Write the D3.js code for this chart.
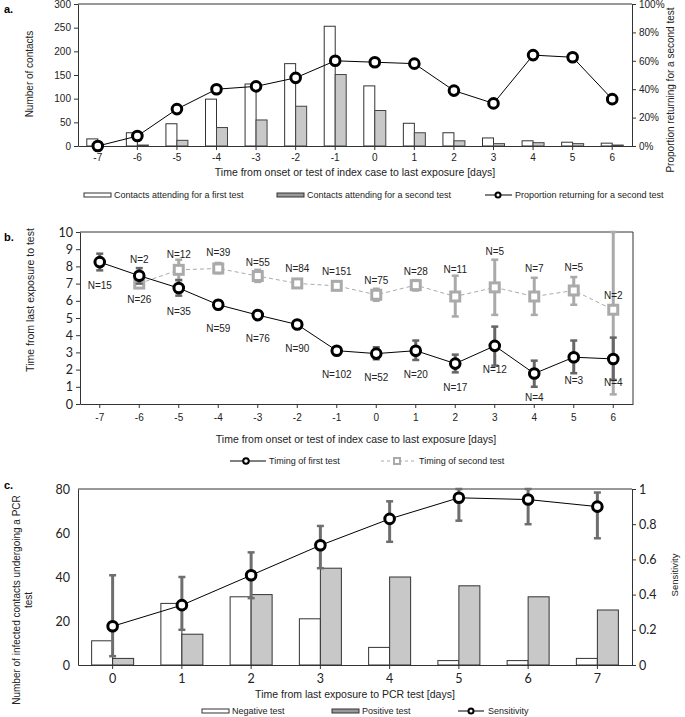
<!DOCTYPE html>
<html>
<head>
<meta charset="utf-8">
<script src="https://cdn.jsdelivr.net/npm/d3@7"></script>
<style>
  body { margin: 0; background: #fff; }
  svg { display: block; font-family: "Liberation Sans", Arial, sans-serif; }
  .axis path, .axis line { stroke: #333; }
  .axis text { fill: #222; }
  .legend { font-family: "Liberation Sans Narrow", "Arial Narrow", "Liberation Sans", sans-serif; }
</style>
</head>
<body>
<div id="chart"></div>
<script>
// ---- panel a data ----
var exposureDays = [-7, -6, -5, -4, -3, -2, -1, 0, 1, 2, 3, 4, 5, 6];
var firstTestContacts = [15, 28, 47, 99, 131, 174, 253, 127, 48, 28, 17, 11, 8, 6];
var secondTestContacts = [0, 2, 12, 39, 55, 84, 151, 75, 28, 11, 5, 7, 5, 2];
var proportionReturning = [0, 7, 26, 40, 42, 48, 60, 59, 58, 39, 30, 64, 62.5, 33];
var contactTicks = [0, 50, 100, 150, 200, 250, 300];
var percentTicks = [0, 20, 40, 60, 80, 100];

// ---- panel b data ----
var firstTiming = [8.25, 7.46, 6.74, 5.77, 5.17, 4.62, 3.1, 2.93, 3.1, 2.35, 3.38, 1.77, 2.72, 2.62];
var firstTimingLow = [7.77, 7.0, 6.3, 5.6, 5.0, 4.45, 2.98, 2.6, 2.56, 1.84, 2.23, 1.0, 1.79, 1.4];
var firstTimingHigh = [8.74, 7.9, 7.2, 6.0, 5.35, 4.8, 3.25, 3.3, 3.69, 2.87, 4.5, 2.52, 3.69, 3.86];
var firstTimingN = [15, 26, 35, 59, 76, 90, 102, 52, 20, 17, 12, 4, 3, 4];
var secondTiming = [null, 7.0, 7.8, 7.88, 7.44, 7.01, 6.87, 6.35, 6.91, 6.25, 6.78, 6.25, 6.6, 5.48];
var secondTimingLow = [null, 7.0, 7.22, 7.6, 7.1, 6.85, 6.7, 6.0, 6.6, 5.09, 5.18, 5.18, 5.77, 0.56];
var secondTimingHigh = [null, 7.0, 8.39, 8.2, 7.8, 7.2, 7.0, 6.7, 7.2, 7.46, 8.39, 7.34, 7.38, 10];
var secondTimingN = [null, 2, 12, 39, 55, 84, 151, 75, 28, 11, 5, 7, 5, 2];
var timingTicks = [0, 1, 2, 3, 4, 5, 6, 7, 8, 9, 10];

// ---- panel c data ----
var pcrDays = [0, 1, 2, 3, 4, 5, 6, 7];
var negativeTests = [11, 28, 31, 21, 8, 2, 2, 3];
var positiveTests = [3, 14, 32, 44, 40, 36, 31, 25];
var sensitivity = [0.22, 0.34, 0.51, 0.68, 0.83, 0.95, 0.94, 0.9];
var sensitivityLow = [0.05, 0.2, 0.38, 0.55, 0.70, 0.82, 0.80, 0.72];
var sensitivityHigh = [0.51, 0.50, 0.64, 0.79, 0.93, 1.0, 1.0, 0.98];
var infectedTicks = [0, 20, 40, 60, 80];
var sensitivityTicks = [0, 0.2, 0.4, 0.6, 0.8, 1];

var width = 685, height = 717;
var gray = "#c8c8c8";
var calibri = "Lato, 'Open Sans', sans-serif";

var svg = d3.select('#chart').append('svg')
    .attr('width', width)
    .attr('height', height);

// little helpers
function ring(g, x, y) {
    g.append('circle').attr('cx', x).attr('cy', y).attr('r', 4.8)
        .attr('fill', '#fff').attr('stroke', '#000').attr('stroke-width', 3);
}
function errorBar(g, x, y1, y2, color) {
    g.append('line').attr('x1', x).attr('x2', x).attr('y1', y1).attr('y2', y2)
        .attr('stroke', color).attr('stroke-width', 3);
    [y1, y2].forEach(function(y) {
        g.append('line').attr('x1', x - 3.5).attr('x2', x + 3.5).attr('y1', y).attr('y2', y)
            .attr('stroke', color).attr('stroke-width', 2.5);
    });
}
function panelLetter(txt, y) {
    svg.append('text').attr('x', 4).attr('y', y).text(txt)
        .style('font-size', '11px').style('font-weight', 700);
}
function frame(g, x0, x1, y0) {
    g.append('line').attr('x1', x0).attr('x2', x1).attr('y1', y0).attr('y2', y0)
        .attr('stroke', '#333');
}

// ================= Panel a =================
var xA = d3.scaleBand().domain(exposureDays).range([78, 632]);
var yA = d3.scaleLinear().domain([0, 300]).range([146, 4]);
var yA2 = d3.scaleLinear().domain([0, 100]).range([146, 4]);
var gA = svg.append('g');
panelLetter('a.', 13);

var barW = 11;
gA.selectAll('.first').data(exposureDays).enter().append('rect')
    .attr('x', function(d) { return xA(d) + xA.bandwidth() / 2 - barW; })
    .attr('y', function(d, i) { return yA(firstTestContacts[i]); })
    .attr('width', barW)
    .attr('height', function(d, i) { return yA(0) - yA(firstTestContacts[i]); })
    .attr('fill', '#fff').attr('stroke', '#333').attr('stroke-width', 1);
gA.selectAll('.second').data(exposureDays).enter().append('rect')
    .attr('x', function(d) { return xA(d) + xA.bandwidth() / 2; })
    .attr('y', function(d, i) { return yA(secondTestContacts[i]); })
    .attr('width', barW)
    .attr('height', function(d, i) { return yA(0) - yA(secondTestContacts[i]); })
    .attr('fill', gray).attr('stroke', '#444').attr('stroke-width', 1);

frame(gA, 78, 632, 4);
gA.append('g').attr('class', 'axis').attr('transform', 'translate(0,146)')
    .call(d3.axisBottom(xA).tickSize(4).tickSizeOuter(0))
    .selectAll('text').style('font-size', '10px').attr('dy', '0.75em');
gA.append('g').attr('class', 'axis').attr('transform', 'translate(78,0)')
    .call(d3.axisLeft(yA).tickValues(contactTicks).tickSize(4).tickSizeOuter(0))
    .selectAll('text').style('font-size', '10px');
gA.append('g').attr('class', 'axis').attr('transform', 'translate(632,0)')
    .call(d3.axisRight(yA2).tickValues(percentTicks).tickSize(4).tickSizeOuter(0)
        .tickFormat(function(d) { return d + '%'; }))
    .selectAll('text').style('font-size', '10px');

var lineA = d3.line()
    .x(function(d, i) { return xA(exposureDays[i]) + xA.bandwidth() / 2; })
    .y(function(d) { return yA2(d); });
gA.append('path').datum(proportionReturning).attr('d', lineA)
    .attr('fill', 'none').attr('stroke', '#000').attr('stroke-width', 1);
proportionReturning.forEach(function(p, i) {
    ring(gA, xA(exposureDays[i]) + xA.bandwidth() / 2, yA2(p));
});

gA.append('text').attr('transform', 'translate(33,74) rotate(-90)')
    .attr('text-anchor', 'middle').style('font-size', '10px').attr('fill', '#222')
    .text('Number of contacts');
gA.append('text').attr('transform', 'translate(674,90) rotate(-90)')
    .attr('text-anchor', 'middle').style('font-size', '10px').attr('fill', '#222')
    .text('Proportion returning for a second test');
gA.append('text').attr('x', 355).attr('y', 176).attr('text-anchor', 'middle')
    .style('font-size', '10.5px').attr('fill', '#222')
    .text('Time from onset or test of index case to last exposure [days]');

// legend a
var legA = gA.append('g').attr('class', 'legend').style('font-size', '9px').attr('fill', '#222');
legA.append('rect').attr('x', 84).attr('y', 193).attr('width', 27).attr('height', 4)
    .attr('fill', '#fff').attr('stroke', '#333');
legA.append('text').attr('x', 114).attr('y', 198).text('Contacts attending for a first test');
legA.append('rect').attr('x', 277).attr('y', 193).attr('width', 27).attr('height', 4)
    .attr('fill', '#999').attr('stroke', '#333');
legA.append('text').attr('x', 307).attr('y', 198).text('Contacts attending for a second test');
legA.append('line').attr('x1', 485).attr('x2', 512).attr('y1', 195).attr('y2', 195)
    .attr('stroke', '#000');
legA.append('circle').attr('cx', 498).attr('cy', 195).attr('r', 2.5)
    .attr('fill', '#fff').attr('stroke', '#000').attr('stroke-width', 2);
legA.append('text').attr('x', 515).attr('y', 198).text('Proportion returning for a second test');

// ================= Panel b =================
var xB = d3.scaleBand().domain(exposureDays).range([80, 633]);
var yB = d3.scaleLinear().domain([0, 10]).range([404, 232]);
var gB = svg.append('g');
panelLetter('b.', 241);
function cxB(i) { return xB(exposureDays[i]) + xB.bandwidth() / 2; }

frame(gB, 80, 633, 232);
gB.append('line').attr('x1', 633).attr('x2', 633).attr('y1', 232).attr('y2', 404).attr('stroke', '#333');
gB.append('g').attr('class', 'axis').attr('transform', 'translate(0,404)')
    .call(d3.axisBottom(xB).tickSize(4).tickSizeOuter(0))
    .selectAll('text').style('font-size', '10px').attr('dy', '1em');
gB.append('g').attr('class', 'axis').attr('transform', 'translate(80,0)')
    .call(d3.axisLeft(yB).tickValues(timingTicks).tickSize(4).tickSizeOuter(0))
    .selectAll('text').style('font-size', '12.5px').style('font-family', calibri);

// second test (gray, dashed) drawn first
var secondIdx = secondTiming.map(function(d, i) { return i; }).filter(function(i) { return secondTiming[i] != null; });
var lineB2 = d3.line().x(function(i) { return cxB(i); }).y(function(i) { return yB(secondTiming[i]); });
gB.append('path').datum(secondIdx).attr('d', lineB2)
    .attr('fill', 'none').attr('stroke', '#aaa').attr('stroke-width', 1).attr('stroke-dasharray', '4,3');
secondIdx.forEach(function(i) {
    if (secondTimingHigh[i] > secondTimingLow[i])
        errorBar(gB, cxB(i), yB(secondTimingHigh[i]), yB(secondTimingLow[i]), '#aaa');
});
secondIdx.forEach(function(i) {
    gB.append('rect').attr('x', cxB(i) - 4.5).attr('y', yB(secondTiming[i]) - 4.5)
        .attr('width', 9).attr('height', 9)
        .attr('fill', '#fff').attr('stroke', '#aaa').attr('stroke-width', 3);
});

// first test (black)
var lineB1 = d3.line().x(function(d, i) { return cxB(i); }).y(function(d) { return yB(d); });
firstTiming.forEach(function(d, i) {
    errorBar(gB, cxB(i), yB(firstTimingHigh[i]), yB(firstTimingLow[i]), '#666');
});
gB.append('path').datum(firstTiming).attr('d', lineB1)
    .attr('fill', 'none').attr('stroke', '#000').attr('stroke-width', 1);
firstTiming.forEach(function(d, i) { ring(gB, cxB(i), yB(d)); });

// N labels
var secondLabelDy = [0, -25, -16, -16, -14, -15, -15, -15, -14, -28, -36, -29, -23, -15];
var nLab = gB.append('g').style('font-size', '10px').attr('fill', '#222').attr('text-anchor', 'middle');
firstTimingN.forEach(function(n, i) {
    nLab.append('text').attr('x', cxB(i)).attr('y', yB(firstTiming[i]) + 27).text('N=' + n);
});
secondIdx.forEach(function(i) {
    nLab.append('text').attr('x', cxB(i)).attr('y', yB(secondTiming[i]) + secondLabelDy[i] + 4)
        .text('N=' + secondTimingN[i]);
});

gB.append('text').attr('transform', 'translate(34,300) rotate(-90)')
    .attr('text-anchor', 'middle').style('font-size', '10.5px').attr('fill', '#222')
    .text('Time from last exposure to test');
gB.append('text').attr('x', 356).attr('y', 443).attr('text-anchor', 'middle')
    .style('font-size', '10.5px').attr('fill', '#222')
    .text('Time from onset or test of index case to last exposure [days]');

var legB = gB.append('g').attr('class', 'legend').style('font-size', '9px').attr('fill', '#222');
legB.append('line').attr('x1', 230).attr('x2', 266).attr('y1', 461).attr('y2', 461).attr('stroke', '#000');
legB.append('circle').attr('cx', 246).attr('cy', 461).attr('r', 2.8)
    .attr('fill', '#fff').attr('stroke', '#000').attr('stroke-width', 2);
legB.append('text').attr('x', 269).attr('y', 464).text('Timing of first test');
legB.append('line').attr('x1', 381).attr('x2', 414).attr('y1', 461).attr('y2', 461)
    .attr('stroke', '#aaa').attr('stroke-dasharray', '3,3');
legB.append('rect').attr('x', 394).attr('y', 458).attr('width', 6).attr('height', 6)
    .attr('fill', '#fff').attr('stroke', '#aaa').attr('stroke-width', 2);
legB.append('text').attr('x', 419).attr('y', 464).text('Timing of second test');

// ================= Panel c =================
var xC = d3.scaleBand().domain(pcrDays).range([78, 632]);
var yC = d3.scaleLinear().domain([0, 80]).range([665, 489]);
var yC2 = d3.scaleLinear().domain([0, 1]).range([665, 489]);
var gC = svg.append('g');
panelLetter('c.', 489);
function cxC(i) { return xC(pcrDays[i]) + xC.bandwidth() / 2; }
var barC = 21;

gC.selectAll('.neg').data(pcrDays).enter().append('rect')
    .attr('x', function(d, i) { return cxC(i) - barC; })
    .attr('y', function(d, i) { return yC(negativeTests[i]); })
    .attr('width', barC)
    .attr('height', function(d, i) { return yC(0) - yC(negativeTests[i]); })
    .attr('fill', '#fff').attr('stroke', '#333');
gC.selectAll('.pos').data(pcrDays).enter().append('rect')
    .attr('x', function(d, i) { return cxC(i); })
    .attr('y', function(d, i) { return yC(positiveTests[i]); })
    .attr('width', barC)
    .attr('height', function(d, i) { return yC(0) - yC(positiveTests[i]); })
    .attr('fill', gray).attr('stroke', '#333');

frame(gC, 78, 632, 489);
gC.append('g').attr('class', 'axis').attr('transform', 'translate(0,665)')
    .call(d3.axisBottom(xC).tickSize(4).tickSizeOuter(0))
    .selectAll('text').style('font-size', '12.5px').style('font-family', calibri).attr('dy', '0.9em');
gC.append('g').attr('class', 'axis').attr('transform', 'translate(78,0)')
    .call(d3.axisLeft(yC).tickValues(infectedTicks).tickSize(0).tickPadding(8).tickSizeOuter(0))
    .selectAll('text').style('font-size', '12.5px').style('font-family', calibri);
gC.append('g').attr('class', 'axis').attr('transform', 'translate(632,0)')
    .call(d3.axisRight(yC2).tickValues(sensitivityTicks).tickSize(4).tickSizeOuter(0).tickFormat(d3.format('')))
    .selectAll('text').style('font-size', '12.5px').style('font-family', calibri);

sensitivity.forEach(function(s, i) {
    errorBar(gC, cxC(i), yC2(sensitivityHigh[i]), yC2(sensitivityLow[i]), '#6e6e6e');
});
var lineC = d3.line().x(function(d, i) { return cxC(i); }).y(function(d) { return yC2(d); });
gC.append('path').datum(sensitivity).attr('d', lineC)
    .attr('fill', 'none').attr('stroke', '#000').attr('stroke-width', 1);
sensitivity.forEach(function(s, i) { ring(gC, cxC(i), yC2(s)); });

var yLabC = gC.append('text').attr('transform', 'translate(20,600) rotate(-90)')
    .attr('text-anchor', 'middle').style('font-size', '10px').attr('fill', '#222');
yLabC.append('tspan').attr('x', 0).attr('dy', 0).text('Number of infected contacts undergoing a PCR');
yLabC.append('tspan').attr('x', 0).attr('dy', '1.2em').text('test');
gC.append('text').attr('transform', 'translate(678,575) rotate(-90)')
    .attr('text-anchor', 'middle').style('font-size', '9.5px').attr('fill', '#222')
    .text('Sensitivity');
gC.append('text').attr('x', 355).attr('y', 698).attr('text-anchor', 'middle')
    .style('font-size', '10.5px').attr('fill', '#222')
    .text('Time from last exposure to PCR test [days]');

var legC = gC.append('g').attr('class', 'legend').style('font-size', '9px').attr('fill', '#222');
legC.append('rect').attr('x', 202).attr('y', 709).attr('width', 27).attr('height', 4)
    .attr('fill', '#fff').attr('stroke', '#333');
legC.append('text').attr('x', 232).attr('y', 714).text('Negative test');
legC.append('rect').attr('x', 332).attr('y', 709).attr('width', 27).attr('height', 4)
    .attr('fill', '#999').attr('stroke', '#333');
legC.append('text').attr('x', 362).attr('y', 714).text('Positive test');
legC.append('line').attr('x1', 458).attr('x2', 484).attr('y1', 711).attr('y2', 711).attr('stroke', '#000');
legC.append('circle').attr('cx', 471).attr('cy', 711).attr('r', 2.5)
    .attr('fill', '#fff').attr('stroke', '#000').attr('stroke-width', 2);
legC.append('text').attr('x', 488).attr('y', 714).text('Sensitivity');
</script>
</body>
</html>
